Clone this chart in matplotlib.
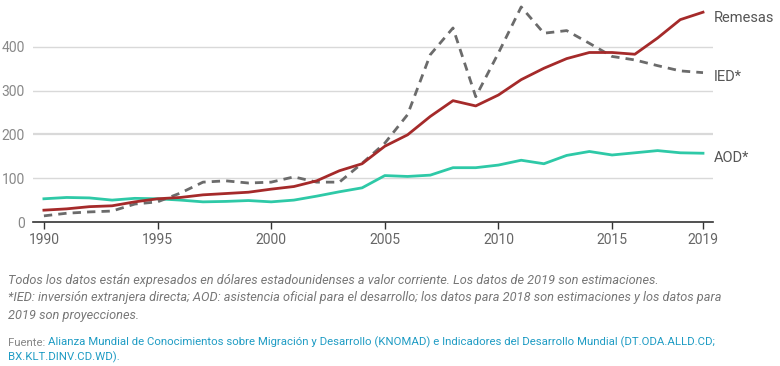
import numpy as np
import matplotlib.pyplot as plt

# Datos (miles de millones de USD)
anios = list(range(1990, 2020))
remesas = [27, 30, 35, 37, 46, 53, 56, 62, 65, 68, 75, 81, 94, 117, 133,
           173, 199, 241, 277, 265, 290, 325, 351, 373, 387, 387, 383, 420, 462, 479]
ied = [14, 20, 23, 25, 41, 46, 66, 91, 94, 89, 91, 103, 91, 91, 134,
       180, 245, 382, 443, 286, 386, 491, 431, 437, 408, 378, 370, 357, 345, 341]
aod = [53, 56, 55, 50, 54, 53, 50, 46, 47, 49, 46, 50, 59, 69, 78,
       106, 104, 107, 124, 124, 130, 141, 133, 152, 161, 153, 158, 163, 158, 157]

etiquetas = ['Remesas', 'IED*', 'AOD*']
pos_etiquetas = [466, 331, 146]
yticks = [0, 100, 200, 300, 400]
xticks = [1990, 1995, 2000, 2005, 2010, 2015, 2019]

plt.rcParams['font.family'] = ['Roboto', 'DejaVu Sans']

fig = plt.figure(figsize=(7.8, 3.66), dpi=100)
ax = fig.add_axes([33 / 780, (366 - 222) / 366, 680 / 780, 219 / 366])

# Rejilla
for v in yticks[1:]:
    ax.axhline(v, color='#d9d9d9', lw=1.6 if v == 200 else 1.0, zorder=0)

ax.plot(anios, aod, color='#2ec9a7', lw=2.0, zorder=3)
ax.plot(anios, ied, color='#6b6b6b', lw=2.0, ls=(0, (3, 2.2)), zorder=3)
ax.plot(anios, remesas, color='#a52a2a', lw=2.0, zorder=4)

ax.set_xlim(1989.52, 2019.44)
ax.set_ylim(0, 500)
ax.set_xticks(xticks)
ax.set_yticks(yticks)
ax.tick_params(axis='x', length=5, width=1, color='#333333', labelsize=10,
               labelcolor='#666666', pad=3)
ax.tick_params(axis='y', length=0, labelsize=10, labelcolor='#888888', pad=6)
for s in ['top', 'right', 'left']:
    ax.spines[s].set_visible(False)
ax.spines['bottom'].set_color('#333333')
ax.spines['bottom'].set_linewidth(1.2)

for txt, y in zip(etiquetas, pos_etiquetas):
    ax.text(2019.48, y, txt, fontsize=10.5, color='#555555', va='center', ha='left',
            clip_on=False)

# Notas
nota = ('Todos los datos están expresados en dólares estadounidenses a valor corriente. '
        'Los datos de 2019 son estimaciones.\n'
        '*IED: inversión extranjera directa; AOD: asistencia oficial para el desarrollo; '
        'los datos para 2018 son estimaciones y los datos para\n'
        '2019 son proyecciones.')
fig.text(8 / 780, 1 - 274 / 366, nota, fontsize=9.2, style='italic',
         color='#777777', va='top', ha='left', linespacing=1.45)

t = fig.text(8 / 780, 1 - 346 / 366, 'Fuente: ', fontsize=8.2, color='#888888',
             va='baseline', ha='left')
ax.annotate('Alianza Mundial de Conocimientos sobre Migración y Desarrollo (KNOMAD) '
            'e Indicadores del Desarrollo Mundial (DT.ODA.ALLD.CD;',
            xy=(1, 0), xycoords=t, va='bottom', ha='left', fontsize=8.2,
            color='#1f9cc4', annotation_clip=False)
fig.text(8 / 780, 1 - 360 / 366, 'BX.KLT.DINV.CD.WD).', fontsize=8.2,
         color='#1f9cc4', va='baseline', ha='left')

plt.savefig('out.png', dpi=100)
